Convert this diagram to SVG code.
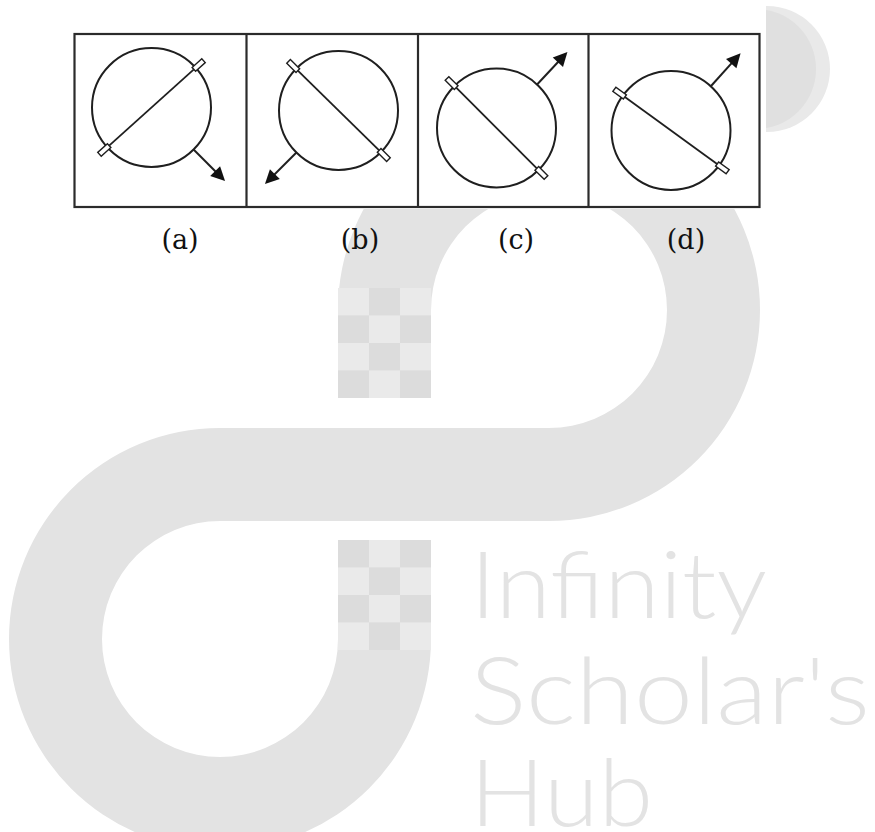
<svg xmlns="http://www.w3.org/2000/svg" width="875" height="832" viewBox="0 0 875 832">
  <style>
    .wm { fill: #e3e3e3; }
    .ck1 { fill: #dcdcdc; }
    .ck2 { fill: #eaeaea; }
    .wmtext { fill: #e3e3e3; font-family: Lato, "Open Sans", "Noto Sans", sans-serif; font-weight: 300; font-size: 92px; }
    .frame { fill: #ffffff; stroke: #2b2b2b; stroke-width: 2.2; }
    .div { stroke: #2b2b2b; stroke-width: 2.2; }
    .ring { fill: none; stroke: #1f1f1f; stroke-width: 2; }
    .diam { stroke: #1f1f1f; stroke-width: 1.8; }
    .cap { fill: #ffffff; stroke: #1f1f1f; stroke-width: 1.4; }
    .shaft { stroke: #1f1f1f; stroke-width: 2; }
    .head { fill: #111111; }
    .lbl { font-family: "DejaVu Serif", "Liberation Serif", serif; font-size: 27px; fill: #111111; text-anchor: middle; }
  </style>

  <rect width="875" height="832" fill="#ffffff"/>

  <!-- watermark -->
  <g id="watermark">
    <path class="wm" d="M338,398 L338,310 A211,211 0 0 1 760,310 A211,211 0 0 1 549,521 L220,521 A118,118 0 0 0 102,639 A118,118 0 0 0 220,757 A118,118 0 0 0 338,639 L338,540 L431,540 L431,639 A211,211 0 0 1 220,850 A211,211 0 0 1 9,639 A211,211 0 0 1 220,428 L549,428 A118,118 0 0 0 667,310 A118,118 0 0 0 431,310 L431,398 Z"/>
    <g id="checker-top">
      <rect class="ck2" x="338" y="288" width="31" height="27.5"/>
      <rect class="ck1" x="369" y="288" width="31" height="27.5"/>
      <rect class="ck2" x="400" y="288" width="31" height="27.5"/>
      <rect class="ck1" x="338" y="315.5" width="31" height="27.5"/>
      <rect class="ck2" x="369" y="315.5" width="31" height="27.5"/>
      <rect class="ck1" x="400" y="315.5" width="31" height="27.5"/>
      <rect class="ck2" x="338" y="343" width="31" height="27.5"/>
      <rect class="ck1" x="369" y="343" width="31" height="27.5"/>
      <rect class="ck2" x="400" y="343" width="31" height="27.5"/>
      <rect class="ck1" x="338" y="370.5" width="31" height="27.5"/>
      <rect class="ck2" x="369" y="370.5" width="31" height="27.5"/>
      <rect class="ck1" x="400" y="370.5" width="31" height="27.5"/>
    </g>
    <g id="checker-bottom">
      <rect class="ck1" x="338" y="540" width="31" height="27.5"/>
      <rect class="ck2" x="369" y="540" width="31" height="27.5"/>
      <rect class="ck1" x="400" y="540" width="31" height="27.5"/>
      <rect class="ck2" x="338" y="567.5" width="31" height="27.5"/>
      <rect class="ck1" x="369" y="567.5" width="31" height="27.5"/>
      <rect class="ck2" x="400" y="567.5" width="31" height="27.5"/>
      <rect class="ck1" x="338" y="595" width="31" height="27.5"/>
      <rect class="ck2" x="369" y="595" width="31" height="27.5"/>
      <rect class="ck1" x="400" y="595" width="31" height="27.5"/>
      <rect class="ck2" x="338" y="622.5" width="31" height="27.5"/>
      <rect class="ck1" x="369" y="622.5" width="31" height="27.5"/>
      <rect class="ck2" x="400" y="622.5" width="31" height="27.5"/>
    </g>
    <circle cx="767" cy="69" r="63" fill="#e9e9e9"/>
    <circle cx="756" cy="69" r="60" fill="#e0e0e0"/>
    <text class="wmtext" x="470" y="618" textLength="297" lengthAdjust="spacingAndGlyphs">Infinity</text>
    <text class="wmtext" x="470" y="724" textLength="400" lengthAdjust="spacingAndGlyphs">Scholar's</text>
    <text class="wmtext" x="470" y="826" font-size="90" textLength="183" lengthAdjust="spacingAndGlyphs">Hub</text>
  </g>

  <!-- white backing of the figure strip -->
  <rect x="0" y="0" width="766" height="209" fill="#ffffff"/>

  <!-- frame -->
  <g id="frame">
    <rect class="frame" x="74.5" y="34" width="685" height="173"/>
    <line class="div" x1="246.5" y1="34" x2="246.5" y2="207"/>
    <line class="div" x1="418" y1="34" x2="418" y2="207"/>
    <line class="div" x1="588.5" y1="34" x2="588.5" y2="207"/>
  </g>

  <!-- panel a -->
  <g id="panel-a" transform="translate(151.5,107.5)">
    <circle class="ring" r="59.5"/>
    <g transform="rotate(-42)">
      <line class="diam" x1="-57" y1="0" x2="57" y2="0"/>
      <rect class="cap" x="57" y="-2.6" width="13" height="5.2"/>
      <rect class="cap" x="-70" y="-2.6" width="13" height="5.2"/>
    </g>
    <g transform="rotate(45)">
      <line class="shaft" x1="59.5" y1="0" x2="92" y2="0"/>
      <polygon class="head" points="104,0 90,-7 90,7"/>
    </g>
  </g>

  <!-- panel b -->
  <g id="panel-b" transform="translate(338.5,110.5)">
    <circle class="ring" r="59.5"/>
    <g transform="rotate(44.5)">
      <line class="diam" x1="-57" y1="0" x2="57" y2="0"/>
      <rect class="cap" x="57" y="-2.6" width="13" height="5.2"/>
      <rect class="cap" x="-70" y="-2.6" width="13" height="5.2"/>
    </g>
    <g transform="rotate(135)">
      <line class="shaft" x1="59.5" y1="0" x2="92" y2="0"/>
      <polygon class="head" points="104,0 90,-7 90,7"/>
    </g>
  </g>

  <!-- panel c -->
  <g id="panel-c" transform="translate(496.5,128)">
    <circle class="ring" r="59.5"/>
    <g transform="rotate(45)">
      <line class="diam" x1="-57" y1="0" x2="57" y2="0"/>
      <rect class="cap" x="57" y="-2.6" width="13" height="5.2"/>
      <rect class="cap" x="-70" y="-2.6" width="13" height="5.2"/>
    </g>
    <g transform="rotate(-47)">
      <line class="shaft" x1="59.5" y1="0" x2="92" y2="0"/>
      <polygon class="head" points="104,0 90,-7 90,7"/>
    </g>
  </g>

  <!-- panel d -->
  <g id="panel-d" transform="translate(671,130.5)">
    <circle class="ring" r="59.5"/>
    <g transform="rotate(36)">
      <line class="diam" x1="-57" y1="0" x2="57" y2="0"/>
      <rect class="cap" x="57" y="-2.6" width="13" height="5.2"/>
      <rect class="cap" x="-70" y="-2.6" width="13" height="5.2"/>
    </g>
    <g transform="rotate(-48)">
      <line class="shaft" x1="59.5" y1="0" x2="92" y2="0"/>
      <polygon class="head" points="104,0 90,-7 90,7"/>
    </g>
  </g>

  <!-- labels -->
  <g id="labels">
    <text class="lbl" x="180" y="249">(a)</text>
    <text class="lbl" x="360" y="249">(b)</text>
    <text class="lbl" x="516" y="249">(c)</text>
    <text class="lbl" x="686" y="249">(d)</text>
  </g>
</svg>
